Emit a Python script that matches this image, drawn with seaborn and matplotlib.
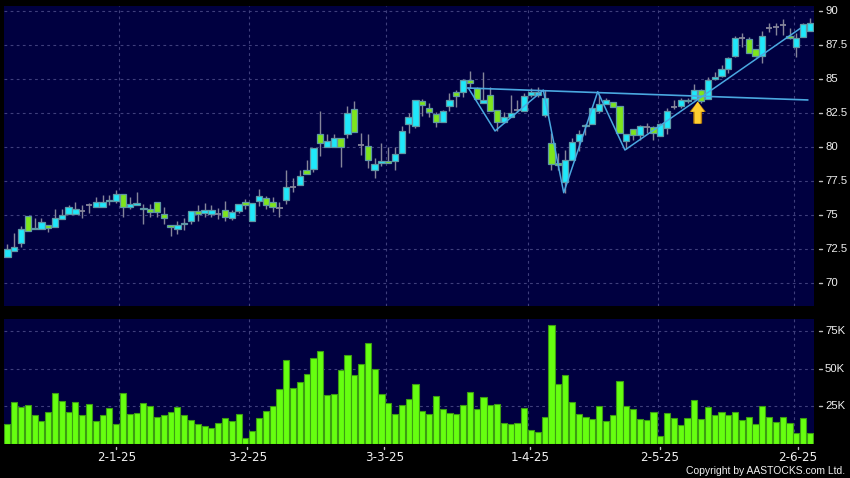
import matplotlib
matplotlib.use("Agg")
import matplotlib.pyplot as plt
from matplotlib.patches import FancyArrow
import numpy as np
import pandas as pd
import seaborn as sns

# daily candles
opens = [71.89, 72.33, 72.92, 74.95, 73.95, 73.95, 74.29, 74.09, 74.68, 75.05,
         75.05, 75.29, 75.74, 75.56, 75.56, 76.03, 76.03, 76.57, 75.56, 75.71,
         75.42, 75.47, 75.98, 75.05, 74.29, 73.95, 74.34, 74.58, 75.32, 75.12,
         75.07, 75.05, 75.39, 74.76, 75.27, 75.93, 74.53, 76.03, 76.28, 75.93,
         75.49, 76.10, 77.04, 77.18, 78.31, 78.36, 80.98, 79.98, 79.98, 80.69,
         80.93, 82.82, 80.15, 80.10, 78.29, 78.80, 79.00, 78.95, 79.54, 81.67,
         81.52, 83.41, 82.90, 82.45, 81.82, 82.99, 84.07, 84.05, 84.95, 84.37,
         83.21, 83.85, 82.75, 81.82, 82.18, 82.75, 82.63, 83.83, 83.85, 82.33,
         80.27, 78.85, 77.40, 79.05, 80.44, 81.55, 81.67, 82.65, 83.16, 83.31,
         83.02, 80.47, 81.32, 80.91, 81.45, 81.45, 80.81, 81.40, 82.97, 83.02,
         83.38, 83.53, 84.19, 83.53, 84.98, 85.20, 85.74, 86.69, 88.04, 87.97,
         87.23, 86.69, 88.75, 88.80, 88.95, 88.19, 87.33, 88.11, 88.51]
highs = [72.87, 73.65, 74.19, 74.95, 74.76, 74.76, 74.29, 75.42, 75.42, 75.71,
         75.96, 75.74, 75.91, 76.35, 76.47, 76.47, 76.84, 76.57, 76.30, 76.67,
         75.79, 75.79, 75.98, 75.59, 74.29, 74.53, 74.78, 75.32, 75.74, 75.88,
         75.74, 75.49, 76.03, 75.37, 75.83, 76.15, 75.91, 76.91, 76.42, 76.35,
         75.98, 78.31, 77.70, 78.31, 79.05, 79.90, 82.65, 80.96, 80.96, 80.69,
         83.02, 83.39, 81.01, 80.96, 79.17, 80.27, 79.98, 79.98, 81.55, 82.48,
         83.48, 83.51, 83.21, 82.60, 82.72, 83.95, 84.19, 84.98, 85.59, 84.44,
         85.49, 84.44, 82.75, 82.60, 83.83, 83.46, 83.95, 84.32, 84.39, 84.19,
         81.06, 79.54, 79.78, 80.64, 81.25, 81.69, 82.97, 83.82, 83.58, 83.31,
         83.02, 80.96, 81.32, 81.62, 81.79, 81.55, 81.79, 82.84, 83.46, 83.58,
         83.58, 84.63, 84.24, 85.12, 85.54, 86.01, 86.64, 88.16, 88.36, 88.06,
         87.23, 88.53, 89.14, 89.14, 89.39, 88.73, 88.36, 89.14, 89.46]
lows = [71.89, 72.33, 72.67, 73.80, 73.95, 73.95, 73.78, 74.09, 74.68, 75.05,
        75.05, 74.78, 75.17, 75.56, 75.56, 75.74, 75.86, 74.88, 75.44, 75.71,
        74.36, 74.88, 74.88, 74.36, 73.48, 73.60, 73.90, 74.34, 74.58, 74.88,
        74.88, 74.68, 74.58, 74.63, 75.12, 75.42, 74.53, 75.66, 75.42, 75.25,
        74.88, 75.81, 76.72, 77.18, 77.99, 78.19, 79.34, 79.98, 79.98, 78.56,
        80.69, 81.08, 79.41, 78.48, 77.75, 78.63, 78.80, 78.31, 79.54, 81.06,
        81.38, 82.31, 82.18, 81.50, 81.82, 82.67, 82.97, 83.70, 84.32, 83.51,
        83.21, 82.63, 81.20, 81.74, 82.18, 82.60, 82.63, 83.70, 83.70, 82.23,
        78.31, 78.31, 76.64, 79.05, 79.73, 80.88, 81.67, 82.48, 83.16, 82.97,
        81.01, 79.83, 80.52, 80.52, 81.01, 80.52, 80.81, 80.96, 82.77, 82.84,
        83.21, 83.46, 83.21, 83.53, 84.93, 85.12, 85.47, 86.59, 87.38, 86.89,
        86.59, 86.20, 88.48, 88.24, 88.24, 87.92, 86.64, 88.06, 88.51]
closes = [72.48, 72.67, 73.95, 73.80, 74.07, 74.51, 74.02, 74.80, 75.03, 75.61,
          75.47, 75.29, 75.74, 75.98, 75.98, 76.13, 76.57, 75.56, 75.81, 75.86,
          75.54, 75.25, 75.22, 74.76, 74.09, 74.29, 74.44, 75.32, 75.07, 75.39,
          75.39, 75.05, 74.83, 75.25, 75.83, 75.74, 75.91, 76.42, 75.71, 75.56,
          75.49, 77.08, 77.04, 77.90, 77.99, 79.90, 80.27, 80.47, 80.69, 80.03,
          82.48, 81.08, 80.15, 79.02, 78.73, 79.00, 78.80, 79.46, 81.20, 82.18,
          83.48, 83.07, 82.60, 81.87, 82.67, 83.48, 83.73, 84.95, 84.68, 83.51,
          83.48, 82.63, 81.82, 82.23, 82.53, 82.75, 83.78, 84.02, 84.02, 83.58,
          78.73, 78.65, 79.05, 80.39, 80.96, 81.62, 82.84, 83.16, 83.46, 82.97,
          81.01, 80.96, 80.88, 81.55, 81.45, 81.01, 81.69, 82.67, 82.97, 83.46,
          83.48, 84.19, 83.38, 84.93, 85.12, 85.76, 86.57, 88.02, 88.04, 86.89,
          86.69, 88.19, 88.75, 88.80, 88.95, 88.02, 88.04, 89.05, 89.14]
volumes = [12.7, 27.8, 24.2, 26.0, 18.7, 14.9, 21.3, 34.0, 28.2, 21.3,
           27.8, 18.7, 26.2, 15.1, 19.3, 23.8, 12.7, 34.0, 19.8, 20.2,
           27.1, 24.9, 17.8, 19.3, 21.1, 24.2, 19.3, 15.6, 12.9, 11.6,
           10.4, 13.8, 17.1, 15.3, 19.8, 3.6, 8.2, 16.9, 21.8, 24.7,
           36.2, 56.0, 37.1, 41.3, 46.4, 56.7, 61.8, 32.4, 33.3, 48.9,
           59.3, 45.6, 53.3, 67.3, 49.8, 32.9, 26.7, 20.0, 25.6, 30.0,
           39.6, 21.6, 19.6, 32.0, 22.9, 20.4, 19.8, 26.0, 34.2, 22.9,
           31.1, 25.6, 26.4, 13.6, 13.1, 14.0, 23.6, 9.3, 7.6, 17.6,
           78.9, 39.8, 45.8, 28.0, 19.6, 17.6, 16.2, 24.9, 14.9, 18.7,
           41.6, 24.9, 23.3, 16.2, 15.8, 21.3, 4.9, 20.2, 16.9, 12.4,
           17.1, 28.7, 16.4, 24.4, 18.9, 20.7, 18.7, 21.3, 15.6, 17.6,
           12.7, 25.3, 17.6, 14.4, 17.8, 13.6, 7.3, 16.9, 6.9]

# pattern lines
neck_x = [67.6, 117.7]
neck_y = [84.34, 83.46]
zigzag_x = [67.8, 71.7, 78.8, 81.8, 86.8, 90.8, 116.6]
zigzag_y = [84.32, 81.18, 84.19, 76.64, 84.07, 79.78, 88.73]

date_labels = ["2-1-25", "3-2-25", "3-3-25", "1-4-25", "2-5-25", "2-6-25"]
date_ticks = [16.0, 35.3, 55.4, 76.8, 95.9, 116.2]
date_grid = [16.46, 35.57, 55.6, 76.6, 95.6, 115.6]
price_ticks = [70, 72.5, 75, 77.5, 80, 82.5, 85, 87.5, 90]
price_labels = ["70", "72.5", "75", "77.5", "80", "82.5", "85", "87.5", "90"]
vol_ticks = [25, 50, 75]
vol_labels = ["25K", "50K", "75K"]

BG = "#000040"
GRID = "#3f3f7c"
CYAN = "#1fe8fa"
GREEN = "#7ee51c"
EDGE = "#5f98a4"
WICK = "#85859a"
LINE = "#4aa8e0"
TEXT = "#f0f0f0"
SANS = "Liberation Sans"

sns.set_style("dark", {"axes.facecolor": BG, "figure.facecolor": "black"})
plt.rcParams["font.family"] = ["DejaVu Sans"]

W, H = 850, 478
fig = plt.figure(figsize=(W / 100, H / 100), dpi=100, facecolor="black")
ax = fig.add_axes([4 / W, 1 - 306 / H, 810 / W, 300 / H])
ax_vol = fig.add_axes([4 / W, 1 - 443.5 / H, 810 / W, 124.5 / H])

df = pd.DataFrame({"open": opens, "high": highs, "low": lows, "close": closes, "volume": volumes})
df["day"] = np.arange(len(df))

# candles
ax.vlines(df["day"], df["low"], df["high"], color=WICK, lw=1, zorder=2)
doji = df[df["open"] == df["close"]]
solid = df[df["open"] != df["close"]]
body_colors = [CYAN if c > o else GREEN for o, c in zip(solid["open"], solid["close"])]
ax.bar(solid["day"], (solid["close"] - solid["open"]).abs(),
       bottom=solid[["open", "close"]].min(axis=1), width=0.93,
       color=body_colors, edgecolor=EDGE, linewidth=0.9, zorder=3)
ax.hlines(doji["close"], doji["day"] - 0.45, doji["day"] + 0.45, color=WICK, lw=1.3, zorder=3)

sns.lineplot(x=neck_x, y=neck_y, ax=ax, color=LINE, lw=1.2, zorder=4, estimator=None)
sns.lineplot(x=zigzag_x, y=zigzag_y, ax=ax, color=LINE, lw=1.1, zorder=4, sort=False, estimator=None)

# buy arrow
for width, color, z in [(1.3, "#b87c0c", 5), (0.9, "#ffcf30", 6)]:
    ax.add_patch(FancyArrow(101.5, 81.72, 0, 1.62, width=width, head_width=width + 1.1,
                            head_length=0.75, length_includes_head=True,
                            facecolor=color, edgecolor="none", zorder=z))

# volume
sns.barplot(data=df, x="day", y="volume", ax=ax_vol, native_scale=True, color="#66ff10",
            saturation=1, width=0.9, edgecolor="#3c9e12", linewidth=0.8, zorder=3)

ax.set_xlim(-0.5, 118.6)
ax.set_ylim(68.31, 90.37)
ax_vol.set_xlim(-0.5, 118.6)
ax_vol.set_ylim(0, 83)

for a in (ax, ax_vol):
    a.set_xlabel("")
    a.set_ylabel("")
    a.set_facecolor(BG)
    a.set_xticks([])
    a.set_yticks([])
    for s in a.spines.values():
        s.set_visible(False)
    for x in date_grid:
        a.axvline(x, color=GRID, lw=0.8, ls=(0, (2.5, 3)), zorder=1)

# price axis on the right, tick dashes stand off from the panel
for y, lab in zip(price_ticks, price_labels):
    ax.axhline(y, color=GRID, lw=0.8, ls=(0, (2.5, 3)), zorder=1)
    ax.plot([1.0062, 1.0099], [y, y], transform=ax.get_yaxis_transform(), color="#c0c0c0", lw=1, clip_on=False)
    ax.text(1.0136, y, lab, transform=ax.get_yaxis_transform(), color=TEXT, fontsize=8.2, family=SANS, va="center", ha="left")

for y, lab in zip(vol_ticks, vol_labels):
    ax_vol.axhline(y, color=GRID, lw=0.8, ls=(0, (2.5, 3)), zorder=1)
    ax_vol.plot([1.0062, 1.0099], [y, y], transform=ax_vol.get_yaxis_transform(), color="#c0c0c0", lw=1, clip_on=False)
    ax_vol.text(1.0136, y, lab, transform=ax_vol.get_yaxis_transform(), color=TEXT, fontsize=8.2, family=SANS, va="center", ha="left")

for x, lab in zip(date_ticks, date_labels):
    ax_vol.plot([x, x], [-0.028, -0.042], transform=ax_vol.get_xaxis_transform(), color="#c0c0c0", lw=1, clip_on=False)
    ax_vol.text(x, -0.115, lab, transform=ax_vol.get_xaxis_transform(), color=TEXT, fontsize=8.6, va="center", ha="center")

fig.text(845.5 / W, 1 - 471.5 / H, "Copyright by AASTOCKS.com Ltd.", color=TEXT, fontsize=7.5, family=SANS, ha="right", va="center")

fig.savefig("out.png", dpi=100, facecolor="black")
